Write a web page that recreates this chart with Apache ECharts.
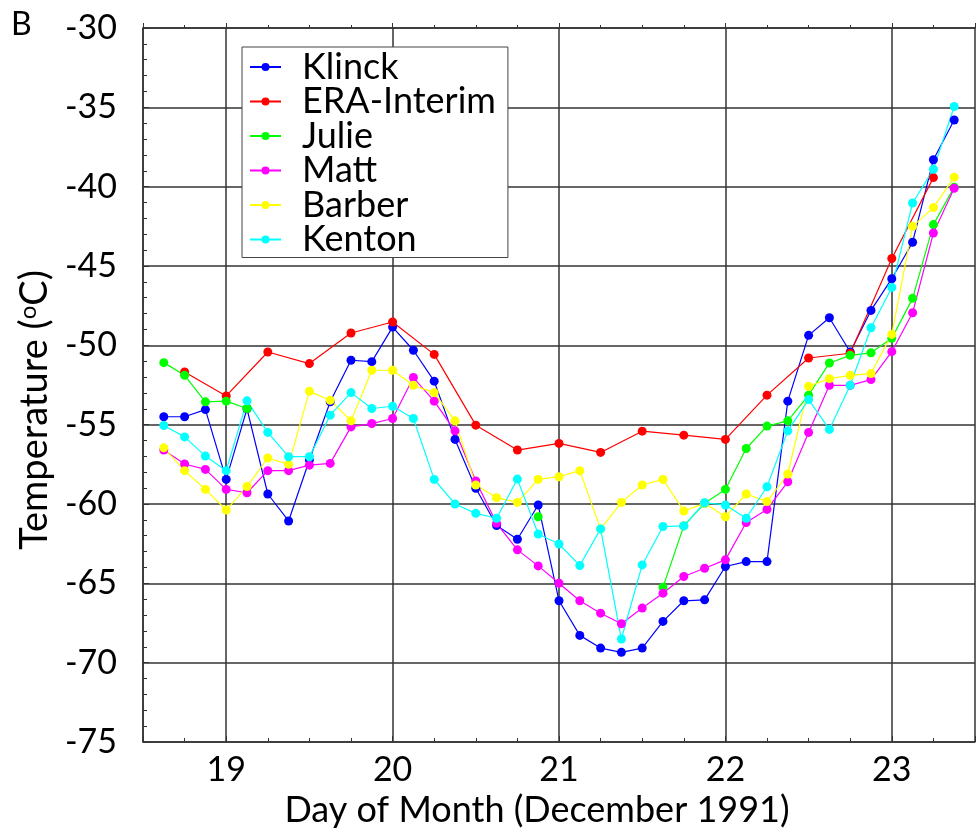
<!DOCTYPE html>
<html lang="en">
<head>
  <meta charset="UTF-8">
  <script src="https://cdn.jsdelivr.net/npm/echarts@6/dist/echarts.min.js"></script>
  <style>body{margin:0;background:#fff;}</style>
</head>
<body>
<div id="main" style="width:978px;height:837px;"></div>
<script>
  // day of month, 3-hourly (Dec 1991)
  var days = [18.625,18.75,18.875,19,19.125,19.25,19.375,19.5,19.625,19.75,19.875,
              20,20.125,20.25,20.375,20.5,20.625,20.75,20.875,
              21,21.125,21.25,21.375,21.5,21.625,21.75,21.875,
              22,22.125,22.25,22.375,22.5,22.625,22.75,22.875,
              23,23.125,23.25,23.375];

  var klinck = [-54.5,-54.5,-54.05,-58.45,-54.0,-59.37,-61.07,-57.23,-53.56,-50.94,-51.03,
                -48.85,-50.31,-52.26,-55.93,-59.01,-61.36,-62.22,-60.06,
                -66.1,-68.28,-69.08,-69.35,-69.08,-67.4,-66.1,-66.04,
                -63.94,-63.63,-63.63,-53.52,-49.37,-48.26,-50.42,-47.8,
                -45.8,-43.5,-38.3,-35.8];
  // ERA-Interim only every 6 h
  var era = [null,-51.68,null,-53.19,null,-50.42,null,-51.15,null,-49.22,null,
             -48.53,null,-50.57,null,-55.03,null,-56.6,null,
             -56.18,null,-56.75,null,-55.41,null,-55.66,null,
             -55.93,null,-53.14,null,-50.8,null,-50.5,null,
             -44.53,null,-39.43,null];
  var julie = [-51.09,-51.89,-53.56,-53.52,-53.98,null,null,null,null,null,null,
               null,null,null,null,null,null,null,-60.8,
               null,null,null,null,null,-65.24,-61.38,-59.96,
               -59.08,-56.5,-55.09,-54.76,-53.14,-51.11,-50.63,-50.47,
               -49.56,-47.04,-42.39,-40.03];
  var matt = [-56.6,-57.48,-57.82,-59.08,-59.29,-57.9,-57.9,-57.55,-57.44,-55.14,-54.93,
              -54.61,-52.03,-53.52,-55.39,-58.55,-61.22,-62.89,-63.9,
              -64.99,-66.1,-66.88,-67.55,-66.56,-65.62,-64.57,-64.05,
              -63.52,-61.17,-60.34,-58.6,-55.49,-52.52,-52.52,-52.16,
              -50.4,-47.95,-42.92,-40.1];
  var barber = [-56.46,-57.9,-59.08,-60.38,-58.9,-57.1,-57.5,-52.9,-53.46,-54.76,-51.57,
                -51.57,-52.52,-52.98,-54.76,-58.8,-59.6,-59.9,-58.45,
                -58.28,-57.9,-61.57,-59.9,-58.8,-58.45,-60.44,-59.96,
                -60.8,-59.37,-59.85,-58.11,-52.58,-52.1,-51.89,-51.78,
                -49.31,-42.5,-41.32,-39.4];
  var kenton = [-55.05,-55.77,-56.98,-57.9,-53.5,-55.49,-57.02,-57.02,-54.4,-52.98,-53.98,
                -53.84,-54.61,-58.45,-60.0,-60.59,-60.9,-58.43,-61.89,
                -62.52,-63.88,-61.57,-68.51,-63.84,-61.42,-61.38,-59.92,
                -60.06,-60.9,-58.91,-55.39,-53.42,-55.3,-52.52,-48.89,
                -46.35,-41.03,-38.91,-34.95];

  var names = ['Klinck','ERA-Interim','Julie','Matt','Barber','Kenton'];
  var colors = ['#0000ff','#ff0000','#00ff00','#ff00ff','#ffff00','#00ffff'];
  var values = [klinck, era, julie, matt, barber, kenton];

  var font = 'Lato, "Open Sans", sans-serif';

  function pairs(arr){
    var out = [];
    for (var i=0;i<days.length;i++){
      out.push([days[i], arr[i] === null ? '-' : arr[i]]);
    }
    return out;
  }
  function dropNull(arr){
    var out = [];
    for (var i=0;i<days.length;i++){
      if (arr[i] !== null) out.push([days[i], arr[i]]);
    }
    return out;
  }

  var series = [];
  for (var k=0;k<names.length;k++){
    series.push({
      name:names[k],
      type:'line',
      data: k === 1 ? dropNull(values[k]) : pairs(values[k]),
      symbol:'circle',
      symbolSize:9,
      connectNulls:false,
      lineStyle:{width:1.2,color:colors[k]},
      itemStyle:{color:colors[k]},
      animation:false
    });
  }

  var chart = echarts.init(document.getElementById('main'));
  chart.setOption({
    backgroundColor:'#fff',
    title:{text:'B',left:6,top:4,textStyle:{fontFamily:font,fontSize:32,fontWeight:'normal',color:'#000'}},
    grid:{left:143,right:2,top:28,bottom:95},
    legend:{
      data:names,
      orient:'vertical',
      left:242,top:47,
      backgroundColor:'#fff',
      borderColor:'#444',borderWidth:1,
      padding:[2,12,0,7],
      itemWidth:31,itemHeight:10,itemGap:-1.5,
      textStyle:{fontFamily:font,fontSize:36,color:'#000',lineHeight:34.5,padding:[0,0,0,16]}
    },
    xAxis:[{
      type:'value',min:18.5,max:23.5,
      name:'Day of Month (December 1991)',
      nameLocation:'middle',nameGap:47,
      nameTextStyle:{fontFamily:font,fontSize:36,color:'#000',padding:[0,44,0,0]},
      axisLine:{show:true,lineStyle:{color:'#333',width:1.5}},
      axisTick:{show:true,inside:true,length:6,lineStyle:{color:'#333'}},
      minorTick:{show:true,splitNumber:4,length:4,lineStyle:{color:'#333'}},
      splitLine:{show:true,lineStyle:{color:'#333',width:1.5}},
      axisLabel:{fontFamily:font,fontSize:34,color:'#000',margin:11,
        formatter:function(v){ return Number.isInteger(v) ? String(v) : ''; }}
    },{
      type:'value',min:18.5,max:23.5,position:'top',
      axisLine:{show:true,lineStyle:{color:'#333',width:1.5}},
      axisTick:{show:true,length:5,lineStyle:{color:'#333'}},
      minorTick:{show:true,splitNumber:4,length:3,lineStyle:{color:'#333'}},
      splitLine:{show:false},
      axisLabel:{show:false}
    }],
    yAxis:{
      type:'value',min:-75,max:-30,interval:5,
      name:'Temperature ({sup|o}C)',
      nameLocation:'middle',nameRotate:90,nameGap:70,
      nameTextStyle:{fontFamily:font,fontSize:38,color:'#000',padding:[16,50,0,0],
        rich:{sup:{fontFamily:font,fontSize:24,color:'#000',padding:[0,0,14,0]}}},
      axisLine:{show:true,lineStyle:{color:'#333',width:1.5}},
      axisTick:{show:true,inside:true,length:6,lineStyle:{color:'#333'}},
      minorTick:{show:true,splitNumber:5,length:4,lineStyle:{color:'#333'}},
      splitLine:{show:true,lineStyle:{color:'#333',width:1.5}},
      axisLabel:{fontFamily:font,fontSize:34,color:'#000',margin:26}
    },
    series:series
  });
</script>
</body>
</html>
